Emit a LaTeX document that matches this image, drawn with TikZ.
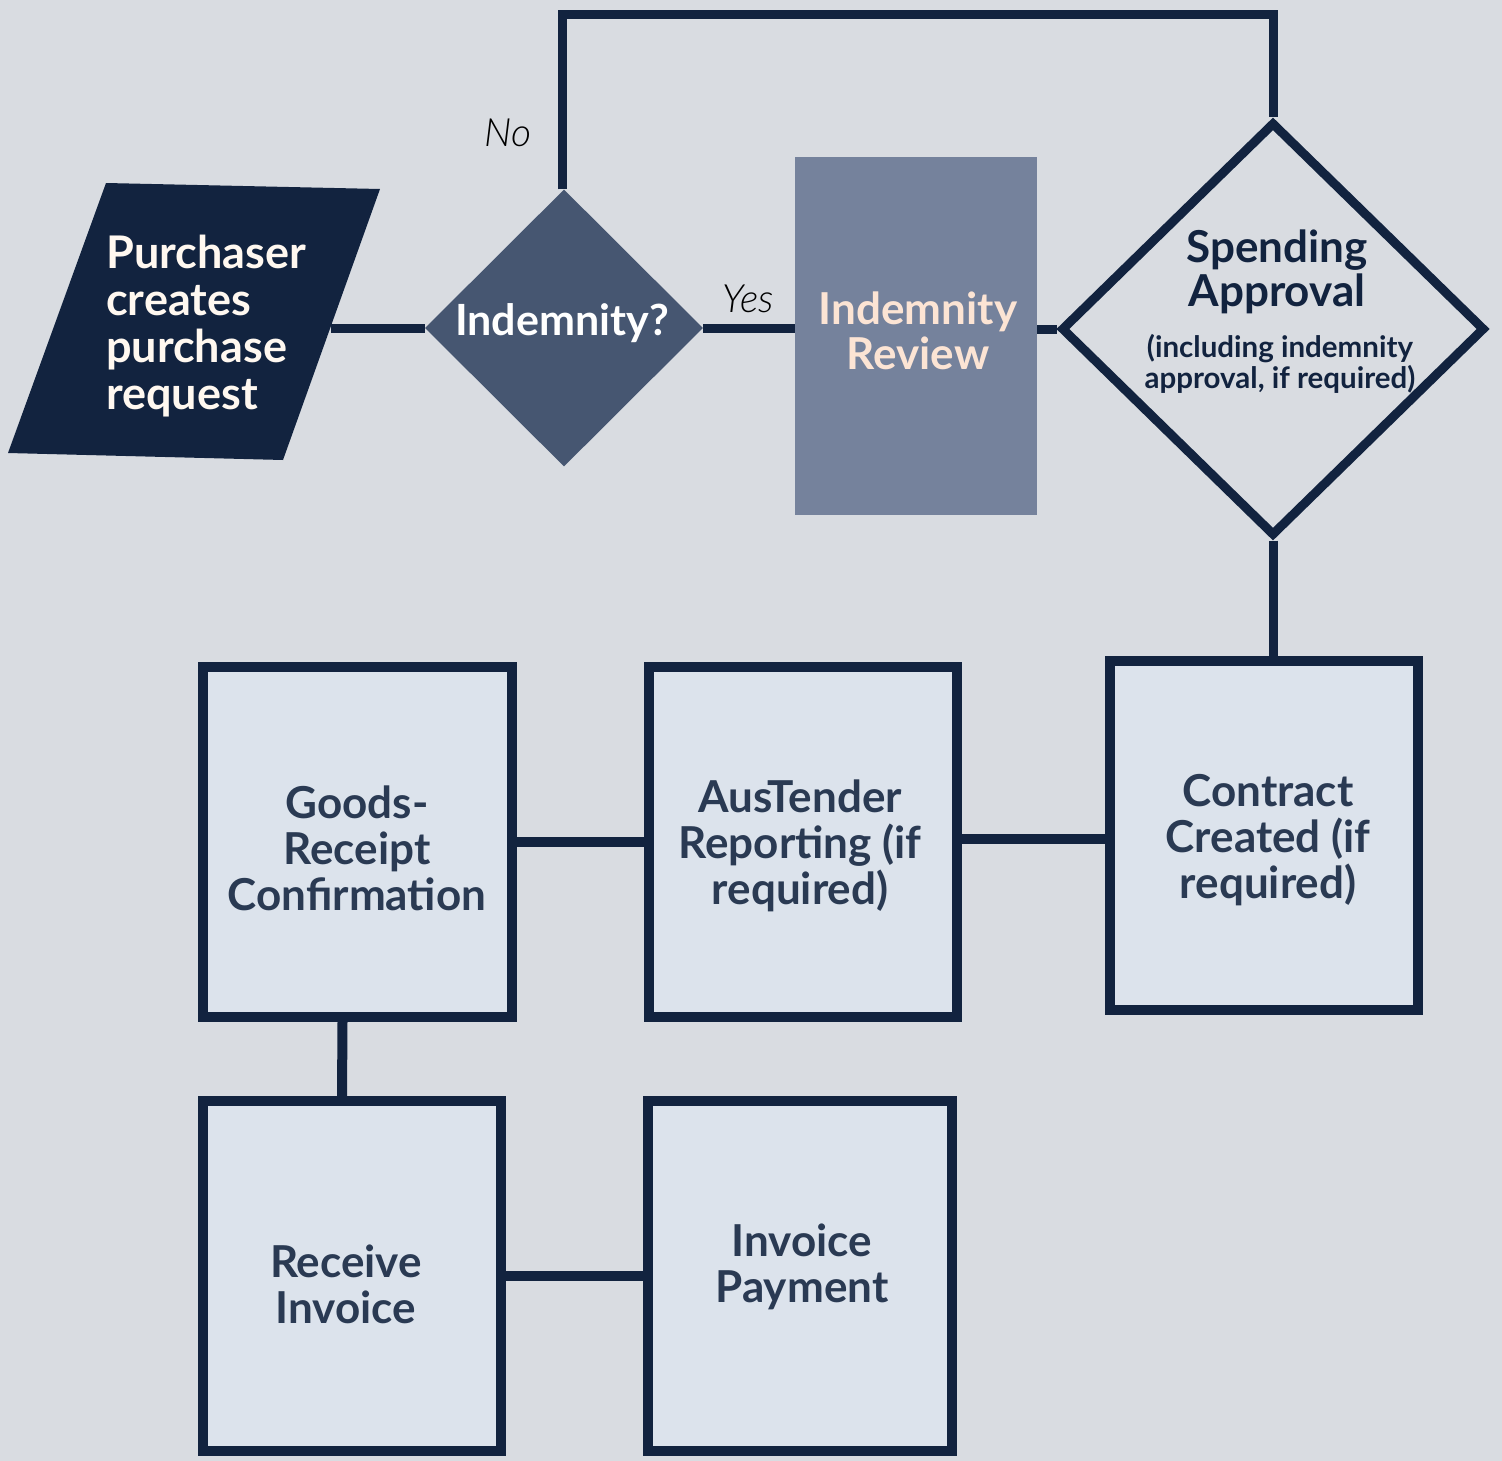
\documentclass[tikz,border=0pt]{standalone}
\usepackage{fontspec}
\setmainfont{Lato}
\newfontfamily\latolight{Lato Light}
\usetikzlibrary{shapes.geometric}
\definecolor{bg}{HTML}{D9DCE1}
\definecolor{navy}{HTML}{12233F}
\definecolor{indfill}{HTML}{465671}
\definecolor{revfill}{HTML}{75829C}
\definecolor{boxfill}{HTML}{DCE3EC}
\definecolor{boxtext}{HTML}{2A3A53}
\definecolor{peach}{HTML}{FCE4D4}
\definecolor{purtext}{HTML}{FFF8F0}
\begin{document}
\begin{tikzpicture}[x=1pt,y=-1pt,
  conn/.style={draw=navy,line width=9pt},
  stepbox/.style={rectangle,draw=navy,line width=10pt,fill=boxfill,inner sep=0pt},
  boxlabel/.style={align=center,text=boxtext,inner sep=0pt,font=\fontsize{44}{46}\selectfont\bfseries},
  yesno/.style={inner sep=0pt,text=black,font=\fontsize{39}{40}\selectfont\latolight\itshape}
]
\fill[bg] (0,0) rectangle (1502,1461);
\useasboundingbox (0,0) rectangle (1502,1461);

% purchaser parallelogram
\coordinate (p1) at (106,183);
\coordinate (p2) at (380,189);
\coordinate (p3) at (283,460);
\coordinate (p4) at (8,453);
\coordinate (pr) at (330.6,328);
\fill[navy] (p1)--(p2)--(p3)--(p4)--cycle;
\node[anchor=west,align=left,inner sep=0pt,text=purtext,font=\fontsize{45}{47}\selectfont\bfseries] (purch) at (106,326) {Purchaser\\creates\\purchase\\request};

% indemnity decision
\node[diamond,fill=indfill,minimum width=278pt,minimum height=277pt,inner sep=0pt] (ind) at (564,328) {};
\node[inner sep=0pt,text=white,font=\fontsize{43}{45}\selectfont\bfseries] (indt) at (562,323) {Indemnity?};

% indemnity review
\node[rectangle,fill=revfill,minimum width=242pt,minimum height=358pt,inner sep=0pt] (rev) at (916,336) {};
\node[align=center,inner sep=0pt,text=peach,font=\fontsize{44}{45}\selectfont\bfseries] (revt) at (918,331) {Indemnity\\Review};

% spending approval
\node[diamond,draw=navy,line width=9pt,minimum width=424pt,minimum height=414pt,inner sep=0pt] (sa) at (1273,329) {};
\node[align=center,inner sep=0pt,text=navy,font=\fontsize{44}{44}\selectfont\bfseries] (sat1) at (1277,272) {Spending\\Approval};
\node[align=center,inner sep=0pt,text=navy,font=\fontsize{29.5}{31}\selectfont\bfseries] (sat2) at (1280,364) {(including indemnity\\approval, if required)};

% boxes
\node[stepbox,minimum width=309pt,minimum height=350pt] (gr) at (357.5,842) {};
\node[stepbox,minimum width=308pt,minimum height=350pt] (aus) at (803,842) {};
\node[stepbox,minimum width=308pt,minimum height=349pt] (con) at (1264,835.5) {};
\node[stepbox,minimum width=298pt,minimum height=350pt] (rec) at (352,1276) {};
\node[stepbox,minimum width=304pt,minimum height=350pt] (pay) at (800,1276) {};

\node[boxlabel] (grt) at (357,848) {Goods-\\Receipt\\Confirmation};
\node[boxlabel] (aust) at (800,846) {AusTender\\Reporting (if\\required)};
\node[boxlabel] (cont) at (1268,840) {Contract\\Created (if\\required)};
\node[boxlabel] (rect) at (346,1284) {Receive\\Invoice};
\node[boxlabel] (payt) at (802,1267) {Invoice\\Payment};

% labels
\node[yesno] (yes) at (748,299) {Yes};
\node[yesno] (no) at (508,133) {No};

% connectors
\coordinate (loop) at (562,15);
\draw[conn] (pr) -- (ind.west);
\draw[conn] (ind.east) -- (ind.east -| rev.west);
\draw[conn] (sa.west -| rev.east) -- (sa.west);
\draw[conn,line join=miter] (ind.north -| loop) -- (loop) -- (loop -| sa.north) -- (sa.north);
\draw[conn] (sa.south) -- (sa.south |- con.north);
\draw[conn,line width=10pt] ([yshift=3.5pt]aus.east) -- ([yshift=-3pt]con.west);
\draw[conn,line width=10pt] (gr.east) -- (aus.west);
\draw[conn,line width=10pt] ([xshift=-15pt]gr.south) -- ([xshift=-10pt]rec.north);
\draw[conn,line width=10pt] (rec.east) -- (pay.west);
\end{tikzpicture}
\end{document}
